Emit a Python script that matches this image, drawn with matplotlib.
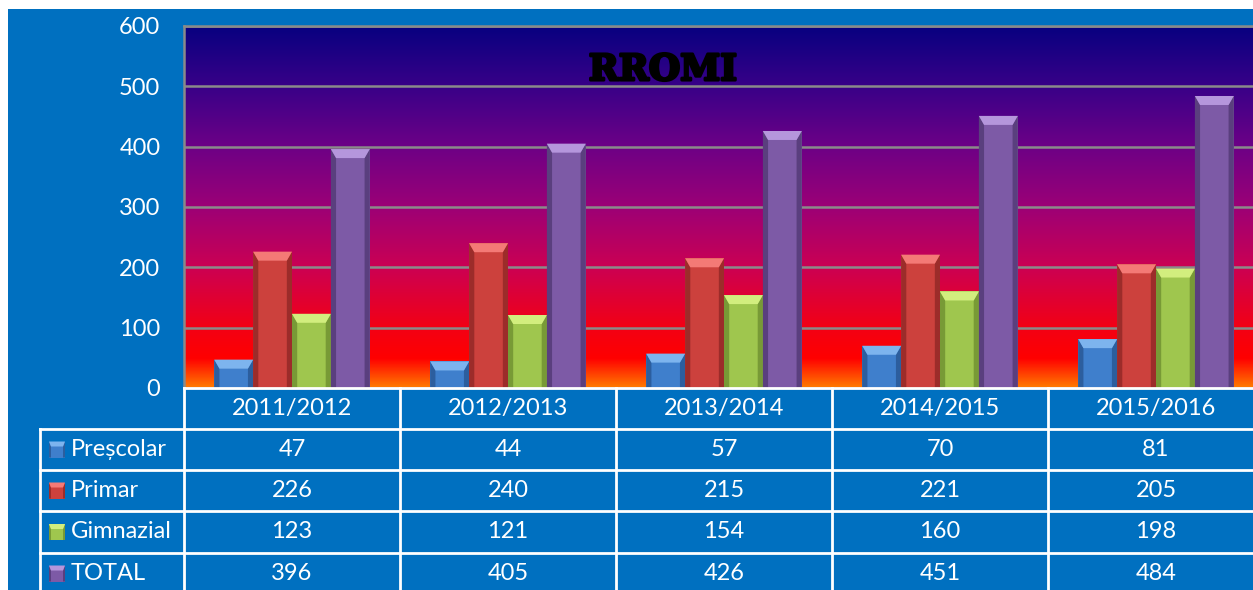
import numpy as np
import matplotlib
matplotlib.use("Agg")
import matplotlib.pyplot as plt
import matplotlib.patheffects as pe
from matplotlib.colors import LinearSegmentedColormap
from matplotlib.patches import Rectangle, Polygon
from matplotlib.lines import Line2D
from matplotlib.transforms import blended_transform_factory

# data
years = ["2011/2012", "2012/2013", "2013/2014", "2014/2015", "2015/2016"]
series_names = ["Preșcolar", "Primar", "Gimnazial", "TOTAL"]
prescolar = [47, 44, 57, 70, 81]
primar = [226, 240, 215, 221, 205]
gimnazial = [123, 121, 154, 160, 198]
total = [396, 405, 426, 451, 484]
y_ticks = [0, 100, 200, 300, 400, 500, 600]
title = "RROMI"

series = [prescolar, primar, gimnazial, total]

# colours: face, light top, dark sides
bar_colors = [
    ("#3F7FCC", "#7DB4EE", "#2C5E9E"),
    ("#CC413D", "#F47A76", "#9C2C2A"),
    ("#9FC64E", "#D2EE7E", "#789A36"),
    ("#7D5AA6", "#B596DC", "#5A3F7E"),
]

W, H = 1253, 590
bg_blue = "#0070C0"
font = ["Lato", "DejaVu Sans"]


def fx(x):
    return x / W


def fy(y):
    return 1 - y / H


def bevel_polys(x0, y0, w, h, colors, bx, by):
    face, light, dark = colors
    return [
        ([(x0, y0), (x0, y0 + h), (x0 + bx, y0 + h - by), (x0 + bx, y0)], dark),
        ([(x0 + w, y0), (x0 + w, y0 + h), (x0 + w - bx, y0 + h - by), (x0 + w - bx, y0)], dark),
        ([(x0, y0 + h), (x0 + w, y0 + h), (x0 + w - bx, y0 + h - by), (x0 + bx, y0 + h - by)], light),
    ]


fig = plt.figure(figsize=(W / 100, H / 100), dpi=100, facecolor="white")

# blue background (white strip at top and left)
fig.patches.append(Rectangle((fx(8), 0), 1 - fx(8), fy(9), transform=fig.transFigure,
                             facecolor=bg_blue, edgecolor="none", zorder=-5))

left, right, top, bottom = 184, 1264, 26, 388
ax = fig.add_axes([fx(left), fy(bottom), (right - left) / W, (bottom - top) / H])
ax.set_zorder(1)

# gradient background of the plot area
grad = LinearSegmentedColormap.from_list("bg", [
    (0.0, "#080080"), (0.17, "#3A0088"), (0.33, "#6C0086"), (0.5, "#9C0076"),
    (0.67, "#CC0052"), (0.83, "#F20016"), (0.92, "#FF0000"), (1.0, "#FF7A00")])
ax.imshow(np.linspace(0, 1, 256).reshape(-1, 1), cmap=grad, aspect="auto",
          extent=(-0.5, len(years) - 0.5, 0, 600), origin="upper", zorder=0)
ax.set_xlim(-0.5, len(years) - 0.5)
ax.set_ylim(0, 600)

ax.set_yticks(y_ticks)
ax.set_xticks([])
ax.yaxis.grid(True, color="#8A8A8A", linewidth=1.8, zorder=1)
ax.set_axisbelow(False)
ax.tick_params(axis="y", length=0, pad=17, colors="white", labelsize=17)
for lab in ax.get_yticklabels():
    lab.set_family(font)
for s in ["right", "bottom"]:
    ax.spines[s].set_visible(False)
for s in ["left", "top"]:
    ax.spines[s].set_color("#8A8A8A")
    ax.spines[s].set_linewidth(1.8)

# bars
x = np.arange(len(years))
bw = 0.18
offsets = [-1.5 * bw, -0.5 * bw, 0.5 * bw, 1.5 * bw]
bx = 0.024
by = 600 * 9 / (bottom - top)
for vals, off, cols in zip(series, offsets, bar_colors):
    bars = ax.bar(x + off, vals, width=bw, color=cols[0], edgecolor="none", zorder=3)
    for p in bars:
        for pts, c in bevel_polys(p.get_x(), 0, p.get_width(), p.get_height(), cols, bx, by):
            ax.add_patch(Polygon(pts, closed=True, facecolor=c, edgecolor="none", zorder=3.1))

ax.text(0.4435, 0.878, title, transform=ax.transAxes, ha="center", va="center",
        fontsize=26, fontweight="bold", family="DejaVu Serif", color="black", zorder=5,
        path_effects=[pe.withStroke(linewidth=2, foreground="black")])

# data table below the chart
tr = blended_transform_factory(ax.transData, fig.transFigure)
row_edges = [388, 429, 470, 511, 553, 594]
line_kw = dict(color="white", linewidth=2, clip_on=False)

fig.lines.append(Line2D([-0.5, len(years) - 0.5], [fy(row_edges[0])] * 2, transform=tr, **line_kw))
for ye in row_edges[1:]:
    fig.lines.append(Line2D([fx(40), fx(right)], [fy(ye)] * 2, transform=fig.transFigure, **line_kw))
for xb in np.arange(len(years) + 1) - 0.5:
    fig.lines.append(Line2D([xb, xb], [fy(row_edges[0]), fy(row_edges[-1])], transform=tr, **line_kw))
fig.lines.append(Line2D([fx(40), fx(40)], [fy(row_edges[1]), fy(row_edges[-1])],
                        transform=fig.transFigure, **line_kw))

txt_kw = dict(color="white", fontsize=17, family=font, va="center")
for i, yr in enumerate(years):
    fig.text(i, fy((row_edges[0] + row_edges[1]) / 2), yr, transform=tr, ha="center", **txt_kw)

for r, (name, vals, cols) in enumerate(zip(series_names, series, bar_colors)):
    yc = fy((row_edges[r + 1] + row_edges[r + 2]) / 2)
    # legend key
    kx, ks = fx(49), 16
    ky = yc - (ks / 2) / H
    fig.patches.append(Rectangle((kx, ky), ks / W, ks / H, facecolor=cols[0], edgecolor="none",
                                 transform=fig.transFigure, zorder=3))
    for pts, c in bevel_polys(kx, ky, ks / W, ks / H, cols, 2 / W, 5 / H):
        fig.patches.append(Polygon(pts, closed=True, facecolor=c, edgecolor="none",
                                   transform=fig.transFigure, zorder=3))
    fig.text(fx(71), yc, name, transform=fig.transFigure, ha="left", **txt_kw)
    for i, v in enumerate(vals):
        fig.text(i, yc, str(v), transform=tr, ha="center", **txt_kw)

fig.savefig("out.png", dpi=100, facecolor=fig.get_facecolor())
